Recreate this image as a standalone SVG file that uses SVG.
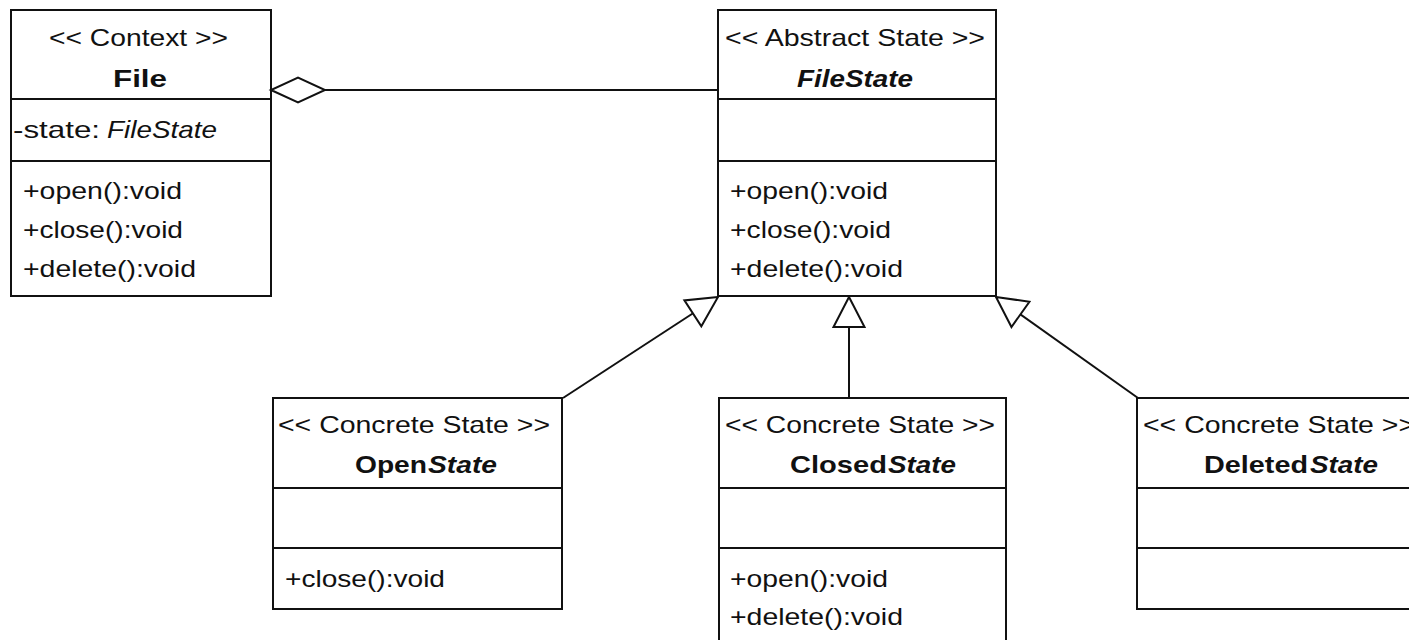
<svg xmlns="http://www.w3.org/2000/svg" width="1409" height="640" viewBox="0 0 1409 640">
  <style>
    .box { fill: #ffffff; stroke: #111111; stroke-width: 2; }
    .div { stroke: #111111; stroke-width: 2; }
    .t { font-family: "Liberation Sans", Arial, sans-serif; font-size: 24px; fill: #111111; }
    .b { font-weight: bold; }
    .i { font-style: italic; }
    .conn { stroke: #111111; stroke-width: 2; fill: none; }
  </style>
  <defs>
    <marker id="gen" viewBox="-36 -20 38 40" refX="0" refY="0" markerWidth="38" markerHeight="40" markerUnits="userSpaceOnUse" orient="auto" overflow="visible">
      <path d="M0,0 L-30,-15.5 L-30,15.5 Z" fill="#ffffff" stroke="#111111" stroke-width="2" stroke-linejoin="miter"/>
    </marker>
    <marker id="agg" viewBox="-58 -16 60 32" refX="0" refY="0" markerWidth="60" markerHeight="32" markerUnits="userSpaceOnUse" orient="auto" overflow="visible">
      <path d="M0,0 L-27,-12.5 L-54,0 L-27,12.5 Z" fill="#ffffff" stroke="#111111" stroke-width="2" stroke-linejoin="miter"/>
    </marker>
  </defs>
  <rect width="1409" height="640" fill="#ffffff"/>

  <g id="File">
    <rect class="box" x="11" y="10" width="260" height="286"/>
    <line class="div" x1="11" y1="99" x2="271" y2="99"/>
    <line class="div" x1="11" y1="161" x2="271" y2="161"/>
    <text class="t" x="49" y="46" textLength="179" lengthAdjust="spacingAndGlyphs">&lt;&lt; Context &gt;&gt;</text>
    <text class="t b" x="113" y="87" textLength="54" lengthAdjust="spacingAndGlyphs">File</text>
    <text class="t" x="13" y="138" textLength="87" lengthAdjust="spacingAndGlyphs">-state:</text>
    <text class="t i" x="107" y="138" textLength="110" lengthAdjust="spacingAndGlyphs">FileState</text>
    <text class="t" x="23" y="199" textLength="159" lengthAdjust="spacingAndGlyphs">+open():void</text>
    <text class="t" x="23" y="238" textLength="160" lengthAdjust="spacingAndGlyphs">+close():void</text>
    <text class="t" x="23" y="277" textLength="173" lengthAdjust="spacingAndGlyphs">+delete():void</text>
  </g>

  <g id="FileState">
    <rect class="box" x="718" y="10" width="278" height="286"/>
    <line class="div" x1="718" y1="99" x2="996" y2="99"/>
    <line class="div" x1="718" y1="161" x2="996" y2="161"/>
    <text class="t" x="725" y="46" textLength="260" lengthAdjust="spacingAndGlyphs">&lt;&lt; Abstract State &gt;&gt;</text>
    <text class="t b i" x="797" y="87" textLength="116" lengthAdjust="spacingAndGlyphs">FileState</text>
    <text class="t" x="730" y="199" textLength="158" lengthAdjust="spacingAndGlyphs">+open():void</text>
    <text class="t" x="730" y="238" textLength="161" lengthAdjust="spacingAndGlyphs">+close():void</text>
    <text class="t" x="730" y="277" textLength="173" lengthAdjust="spacingAndGlyphs">+delete():void</text>
  </g>

  <g id="OpenState">
    <rect class="box" x="273" y="398" width="289" height="211"/>
    <line class="div" x1="273" y1="488" x2="562" y2="488"/>
    <line class="div" x1="273" y1="548" x2="562" y2="548"/>
    <text class="t" x="278" y="433" textLength="272" lengthAdjust="spacingAndGlyphs">&lt;&lt; Concrete State &gt;&gt;</text>
    <text class="t b" x="355" y="473" textLength="72" lengthAdjust="spacingAndGlyphs">Open</text>
    <text class="t b i" x="428" y="473" textLength="69" lengthAdjust="spacingAndGlyphs">State</text>
    <text class="t" x="285" y="587" textLength="160" lengthAdjust="spacingAndGlyphs">+close():void</text>
  </g>

  <g id="ClosedState">
    <rect class="box" x="719" y="398" width="287" height="262"/>
    <line class="div" x1="719" y1="488" x2="1006" y2="488"/>
    <line class="div" x1="719" y1="548" x2="1006" y2="548"/>
    <text class="t" x="725" y="433" textLength="270" lengthAdjust="spacingAndGlyphs">&lt;&lt; Concrete State &gt;&gt;</text>
    <text class="t b" x="790" y="473" textLength="97" lengthAdjust="spacingAndGlyphs">Closed</text>
    <text class="t b i" x="888" y="473" textLength="68" lengthAdjust="spacingAndGlyphs">State</text>
    <text class="t" x="730" y="587" textLength="158" lengthAdjust="spacingAndGlyphs">+open():void</text>
    <text class="t" x="730" y="625" textLength="173" lengthAdjust="spacingAndGlyphs">+delete():void</text>
  </g>

  <g id="DeletedState">
    <rect class="box" x="1137" y="398" width="300" height="211"/>
    <line class="div" x1="1137" y1="488" x2="1437" y2="488"/>
    <line class="div" x1="1137" y1="548" x2="1437" y2="548"/>
    <text class="t" x="1143" y="433" textLength="272" lengthAdjust="spacingAndGlyphs">&lt;&lt; Concrete State &gt;&gt;</text>
    <text class="t b" x="1204" y="473" textLength="104" lengthAdjust="spacingAndGlyphs">Deleted</text>
    <text class="t b i" x="1310" y="473" textLength="68" lengthAdjust="spacingAndGlyphs">State</text>
  </g>

  <g id="connectors">
    <line class="conn" x1="718" y1="90" x2="271" y2="90" marker-end="url(#agg)"/>
    <line class="conn" x1="563" y1="398" x2="718" y2="297" marker-end="url(#gen)"/>
    <line class="conn" x1="849" y1="398" x2="849" y2="297" marker-end="url(#gen)"/>
    <line class="conn" x1="1138" y1="398" x2="996" y2="297" marker-end="url(#gen)"/>
  </g>
</svg>
